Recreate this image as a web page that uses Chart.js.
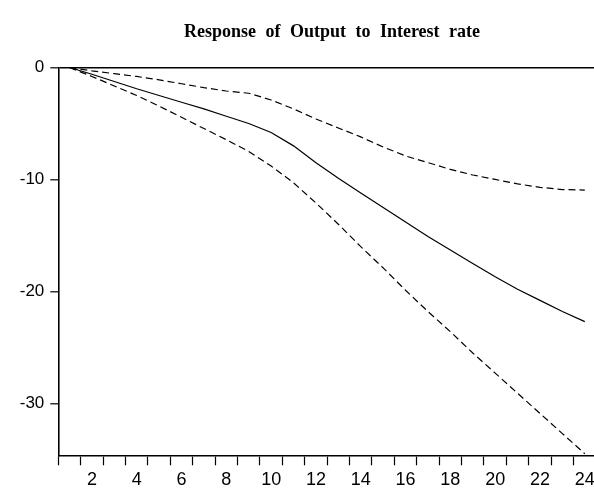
<!DOCTYPE html>
<html>
<head>
<meta charset="utf-8">
<script src="https://cdn.jsdelivr.net/npm/chart.js@4"></script>
<style>
  html, body { margin: 0; padding: 0; background: #fff; overflow: hidden; }
  #wrap { width: 600px; height: 489px; }
</style>
</head>
<body>
<div id="wrap"><canvas id="irf" width="600" height="489"></canvas></div>
<script>
const periods = ["1","2","3","4","5","6","7","8","9","10","11","12","13","14","15","16","17","18","19","20","21","22","23","24"];
const response = [0, -0.6, -1.25, -1.9, -2.5, -3.1, -3.7, -4.35, -5.0, -5.8, -7.0, -8.5, -9.9, -11.2, -12.5, -13.8, -15.1, -16.3, -17.5, -18.7, -19.8, -20.8, -21.8, -22.7];
const upperBand = [0, -0.3, -0.55, -0.8, -1.1, -1.45, -1.8, -2.1, -2.3, -2.9, -3.7, -4.6, -5.4, -6.2, -7.1, -7.9, -8.5, -9.1, -9.6, -10.0, -10.4, -10.7, -10.9, -10.95];
const lowerBand = [0, -0.8, -1.65, -2.5, -3.45, -4.45, -5.45, -6.45, -7.5, -8.8, -10.3, -12.1, -14.0, -16.0, -17.9, -19.9, -21.8, -23.6, -25.5, -27.3, -29.1, -30.9, -32.7, -34.5];
const yTicks = [0, -10, -20, -30];

const titleText = "Response of Output to Interest rate";

// title drawn by hand so it can sit off-centre like the original
const titlePlugin = {
  id: "irfTitle",
  afterDraw(chart) {
    const c = chart.ctx;
    c.save();
    c.font = "bold 18px 'Liberation Serif', 'Times New Roman', serif";
    c.fillStyle = "#000";
    c.textAlign = "center";
    c.textBaseline = "alphabetic";
    if ("wordSpacing" in c) c.wordSpacing = "5px";
    c.fillText(titleText, 332, 37);
    c.restore();
  }
};

const lineCommon = {
  borderColor: "#000",
  borderWidth: 1.2,
  pointRadius: 0,
  tension: 0,
  fill: false
};

new Chart(document.getElementById("irf").getContext("2d"), {
  type: "line",
  data: {
    labels: periods,
    datasets: [
      Object.assign({ data: response }, lineCommon),
      Object.assign({ data: upperBand, borderDash: [7, 4] }, lineCommon),
      Object.assign({ data: lowerBand, borderDash: [7, 4] }, lineCommon)
    ]
  },
  options: {
    responsive: false,
    animation: false,
    layout: { padding: { top: 67.5, right: 4, bottom: 0, left: 0 } },
    plugins: {
      legend: { display: false },
      tooltip: { enabled: false },
      title: { display: false }
    },
    scales: {
      x: {
        type: "category",
        offset: true,
        grid: {
          offset: true,
          drawOnChartArea: false,
          tickLength: 10,
          tickColor: "#000",
          tickWidth: 1.2
        },
        border: { color: "#000", width: 1.6 },
        ticks: {
          autoSkip: false,
          maxRotation: 0,
          padding: 4,
          color: "#000",
          font: { family: "'Liberation Sans', Arial, sans-serif", size: 18 },
          callback: (v, i) => (Number(periods[i]) % 2 === 0 ? periods[i] : "")
        },
        afterFit(scale) { scale.height = 33.7; }
      },
      y: {
        min: -34.64,
        max: 0,
        afterBuildTicks(scale) { scale.ticks = yTicks.map(v => ({ value: v })); },
        grid: {
          color: ctx => (ctx.tick && ctx.tick.value === 0 ? "#000" : "rgba(0,0,0,0)"),
          lineWidth: 1.6,
          tickLength: 8,
          tickColor: "#000",
          tickWidth: 1.2
        },
        border: { color: "#000", width: 1.6 },
        ticks: {
          padding: 6,
          color: "#000",
          font: { family: "'Liberation Sans', Arial, sans-serif", size: 17 },
          callback: v => String(v)
        },
        afterFit(scale) { scale.width = 58.3; }
      }
    }
  },
  plugins: [titlePlugin]
});
</script>
</body>
</html>
